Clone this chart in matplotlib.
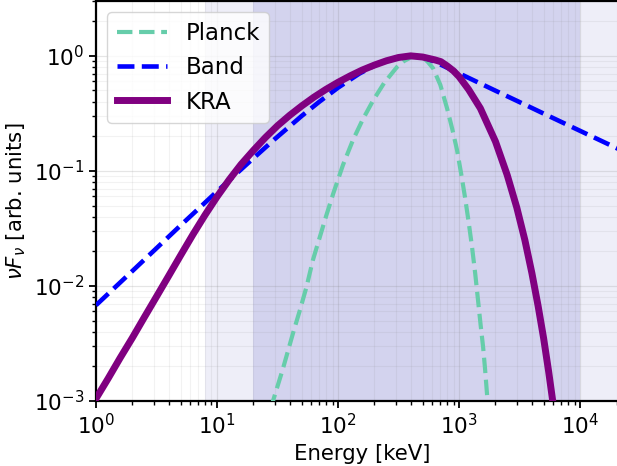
import numpy as np
import matplotlib
matplotlib.use("Agg")
from matplotlib import pyplot as plt

# values (energy in keV, nuFnu in arb. units)
planck_E = [25, 29, 35, 42.5, 48.5, 55, 62, 71, 80, 91.5, 110, 133, 160, 195, 240, 307, 350, 400, 450,
            500, 550, 610, 700, 796, 880, 962, 1040, 1120, 1200, 1280, 1360, 1435, 1510, 1580, 1640, 1700, 1800]
planck_y = [5.5e-4, 1.0e-3, 1.9e-3, 3.9e-3, 6.2e-3, 9.9e-3, 0.0168, 0.027, 0.041, 0.064, 0.113, 0.186, 0.28,
            0.41, 0.58, 0.80, 0.90, 0.97, 1.0, 0.97, 0.89, 0.78, 0.56, 0.35, 0.23, 0.152, 0.095, 0.059, 0.036,
            0.0218, 0.0128, 7.5e-3, 4.5e-3, 2.95e-3, 1.9e-3, 1.17e-3, 5.4e-4]

band_E = [1, 2, 3, 5, 7, 10, 15, 20, 30, 50, 70, 100, 150, 200, 250, 300, 350, 400, 450, 500, 600,
          800, 1000, 2000, 3000, 5000, 10000, 20000, 30000]
band_y = [0.0068, 0.0135, 0.0202, 0.0336, 0.0467, 0.0663, 0.098, 0.129, 0.189, 0.300, 0.399, 0.529,
          0.701, 0.824, 0.909, 0.963, 0.991, 1.0, 0.993, 0.974, 0.910, 0.788, 0.705, 0.498, 0.407,
          0.315, 0.223, 0.158, 0.129]

kra_E = [1, 1.26, 1.58, 2.0, 2.51, 3.16, 3.98, 5.01, 6.31, 7.94, 10, 12.6, 15.8, 20, 25.1, 31.6, 39.8,
         50.1, 63.1, 79.4, 100, 126, 158, 200, 251, 316, 398, 501, 631, 708, 794, 900,
         1000, 1200, 1500, 2000, 2500, 3000, 3500, 4000, 4500, 5000, 5500, 6000, 6500]
kra_y = [1.05e-3, 1.57e-3, 2.36e-3, 3.55e-3, 5.35e-3, 8.07e-3, 0.0122, 0.0185, 0.0279, 0.0412, 0.0596,
         0.0838, 0.114, 0.151, 0.195, 0.247, 0.304, 0.367, 0.437, 0.511, 0.589, 0.670, 0.752, 0.832,
         0.906, 0.968, 1.0, 0.977, 0.923, 0.89, 0.82, 0.74,
         0.66, 0.51, 0.35, 0.18, 0.092, 0.048, 0.025, 0.0129, 6.7e-3, 3.5e-3, 1.8e-3, 9.3e-4, 4.8e-4]

# detector bands
wide_band = (8, 4e4)
main_band = (20, 1e4)

fig = plt.figure(figsize=(6.17, 4.66), dpi=100)
ax = fig.add_axes([0.1556, 0.1395, 0.8626, 0.8584])

ax.axvspan(*wide_band, color='#eeeef8', zorder=0, lw=0)
ax.axvspan(*main_band, color='#d3d3ee', zorder=0, lw=0)

ax.plot(planck_E, planck_y, color='mediumaquamarine', ls='--', lw=3, label='Planck', zorder=3)
ax.plot(band_E, band_y, color='blue', ls='--', lw=3.3, label='Band', zorder=3)
ax.plot(kra_E, kra_y, color='purple', lw=5, label='KRA', zorder=4)

ax.set_xscale('log')
ax.set_yscale('log')
ax.set_xlim(1, 2.5e4)
ax.set_ylim(1e-3, 3)

ax.grid(True, which='major', color='gray', alpha=0.2, lw=0.9, zorder=1)
ax.grid(True, which='minor', color='gray', alpha=0.1, lw=0.8, zorder=1)

ax.tick_params(axis='both', which='major', labelsize=15.5, length=5, width=1.3)
ax.tick_params(axis='both', which='minor', length=3, width=1)
for s in ax.spines.values():
    s.set_linewidth(1.6)
ax.spines['right'].set_visible(False)

ax.set_xlabel('Energy [keV]', fontsize=15.3)
ax.set_ylabel(r'$\nu F_\nu$ [arb. units]', fontsize=15.3)

ax.legend(loc='upper left', fontsize=16.5, handlelength=2.2, borderaxespad=0.5)

fig.savefig('out.png', dpi=100)
